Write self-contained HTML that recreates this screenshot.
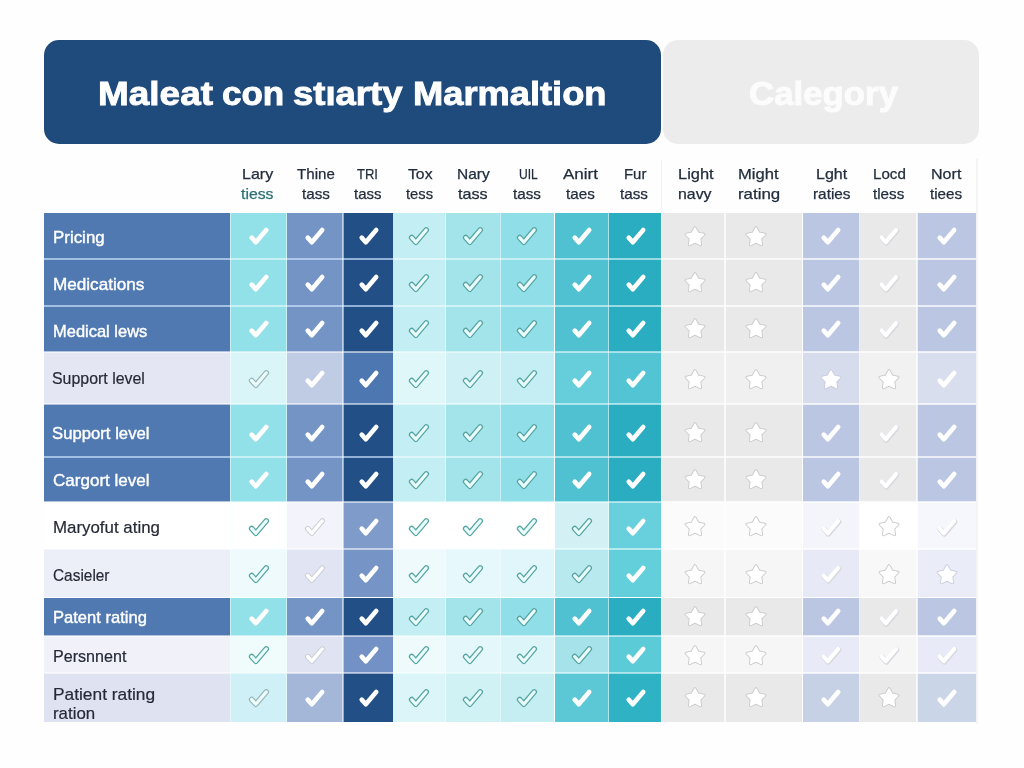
<!DOCTYPE html>
<html lang="en">
<head>
<meta charset="utf-8">
<title>Maleat con stiarty Marmaltion</title>
<style>
html,body{margin:0;padding:0;}
body{width:1024px;height:768px;position:relative;overflow:hidden;background:#fefefe;font-family:"Liberation Sans","DejaVu Sans",sans-serif;}
.abs{position:absolute;}
.banner{left:44.4px;top:39.5px;width:616.6px;height:104.3px;background:#1f4a7c;border-radius:15px;}
.cat{left:663px;top:39.5px;width:316px;height:104.3px;background:#ececec;border-radius:15px;}
.t{position:absolute;white-space:nowrap;transform-origin:0 0;display:block;}
.tt{color:#fff;font-weight:bold;font-size:33px;line-height:40px;-webkit-text-stroke:0.9px #fff;}
.ct{color:#fcfcfc;font-weight:bold;font-size:33px;line-height:40px;-webkit-text-stroke:0.9px #fcfcfc;}
.hd{font-size:15px;line-height:20px;color:#222d3d;-webkit-text-stroke:0.25px #222d3d;}
.hg{color:#2b6f73;-webkit-text-stroke:0.25px #2b6f73;}
.ld{font-size:17px;line-height:20px;color:#fff;-webkit-text-stroke:0.4px #fff;}
.ll{font-size:17px;line-height:20px;color:#252a36;-webkit-text-stroke:0.2px #252a36;}
.c{position:absolute;}
.gl{background:rgba(246,255,255,0.55);}
.gb{background:rgba(205,228,255,0.66);}
.gw{background:rgba(255,255,255,0.55);}
.gg{background:rgba(255,255,255,0.7);}
svg.i{position:absolute;overflow:visible;}
</style>
</head>
<body>
<svg width="0" height="0" style="position:absolute">
<defs>
<path id="ck" d="M-7.3 1.6 L-3.2 6.2 L7.2 -6" fill="none" stroke-linecap="round" stroke-linejoin="round"/>
<path id="st" d="M0.00 -9.20 L2.91 -3.90 L8.84 -2.77 L4.71 1.63 L5.47 7.62 L0.00 5.05 L-5.47 7.62 L-4.71 1.63 L-8.84 -2.77 L-2.91 -3.90 Z" stroke-linejoin="round"/>
</defs>
</svg>
<div class="abs banner"></div>
<div class="abs cat"></div>
<div class="abs" style="left:660.5px;top:160px;width:1px;height:52px;background:#f1f1f1"></div>
<div class="abs" style="left:976px;top:158px;width:2px;height:566px;background:#f5f5f8"></div>

<div class="c" style="left:44px;top:212.5px;width:186.3px;height:46.5px;background:#5079b1"></div>
<div class="c" style="left:230.3px;top:212.5px;width:56.3px;height:46.5px;background:#92e0e8"></div>
<div class="c" style="left:286.6px;top:212.5px;width:56.2px;height:46.5px;background:#7494c5"></div>
<div class="c" style="left:342.8px;top:212.5px;width:50px;height:46.5px;background:#234f87"></div>
<div class="c" style="left:392.8px;top:212.5px;width:52.8px;height:46.5px;background:#c3eef3"></div>
<div class="c" style="left:445.6px;top:212.5px;width:54.8px;height:46.5px;background:#a3e4eb"></div>
<div class="c" style="left:500.4px;top:212.5px;width:54.1px;height:46.5px;background:#90dee7"></div>
<div class="c" style="left:554.5px;top:212.5px;width:54px;height:46.5px;background:#4fc1d0"></div>
<div class="c" style="left:608.5px;top:212.5px;width:52.8px;height:46.5px;background:#2aadc0"></div>
<div class="c" style="left:661.3px;top:212.5px;width:63.9px;height:46.5px;background:#e9e9e9"></div>
<div class="c" style="left:725.2px;top:212.5px;width:77.3px;height:46.5px;background:#e9e9e9"></div>
<div class="c" style="left:802.5px;top:212.5px;width:57.1px;height:46.5px;background:#bac6e2"></div>
<div class="c" style="left:859.6px;top:212.5px;width:57.4px;height:46.5px;background:#e9e9e9"></div>
<div class="c" style="left:917px;top:212.5px;width:59px;height:46.5px;background:#bbc7e2"></div>
<svg class="i" style="left:246.6px;top:224.1px" width="24" height="24" viewBox="-12 -12 24 24"><use href="#ck" stroke="#fff" stroke-width="4.6"/></svg>
<svg class="i" style="left:303px;top:224.1px" width="24" height="24" viewBox="-12 -12 24 24"><use href="#ck" stroke="#fff" stroke-width="4.6"/></svg>
<svg class="i" style="left:357.2px;top:224.1px" width="24" height="24" viewBox="-12 -12 24 24"><use href="#ck" stroke="#fff" stroke-width="4.6"/></svg>
<svg class="i" style="left:407px;top:224.1px" width="24" height="24" viewBox="-12 -12 24 24"><use href="#ck" stroke="#56a5a3" stroke-width="5.7"/><use href="#ck" stroke="#e9fbfb" stroke-width="3.2"/></svg>
<svg class="i" style="left:460.9px;top:224.1px" width="24" height="24" viewBox="-12 -12 24 24"><use href="#ck" stroke="#56a5a3" stroke-width="5.7"/><use href="#ck" stroke="#e9fbfb" stroke-width="3.2"/></svg>
<svg class="i" style="left:514.6px;top:224.1px" width="24" height="24" viewBox="-12 -12 24 24"><use href="#ck" stroke="#56a5a3" stroke-width="5.7"/><use href="#ck" stroke="#e9fbfb" stroke-width="3.2"/></svg>
<svg class="i" style="left:569.7px;top:224.1px" width="24" height="24" viewBox="-12 -12 24 24"><use href="#ck" stroke="#fff" stroke-width="4.6"/></svg>
<svg class="i" style="left:623.6px;top:224.1px" width="24" height="24" viewBox="-12 -12 24 24"><use href="#ck" stroke="#fff" stroke-width="4.6"/></svg>
<svg class="i" style="left:683px;top:224.5px" width="24" height="24" viewBox="-12 -12 24 24"><use href="#st" fill="none" stroke="#cdcdcd" stroke-width="3.2"/><use href="#st" fill="#fff" stroke="#fff" stroke-width="1.2"/></svg>
<svg class="i" style="left:743.6px;top:224.5px" width="24" height="24" viewBox="-12 -12 24 24"><use href="#st" fill="none" stroke="#cdcdcd" stroke-width="3.2"/><use href="#st" fill="#fff" stroke="#fff" stroke-width="1.2"/></svg>
<svg class="i" style="left:818.6px;top:224.1px" width="24" height="24" viewBox="-12 -12 24 24"><use href="#ck" stroke="#fff" stroke-width="4.6"/></svg>
<svg class="i" style="left:877.2px;top:224.1px" width="24" height="24" viewBox="-12 -12 24 24"><use href="#ck" stroke="#d8d8de" stroke-width="5.4" transform="translate(0.5,0.7)"/><use href="#ck" stroke="#ffffff" stroke-width="4.2"/></svg>
<svg class="i" style="left:935.3px;top:224.1px" width="24" height="24" viewBox="-12 -12 24 24"><use href="#ck" stroke="#fff" stroke-width="4.6"/></svg>
<div class="c" style="left:44px;top:259px;width:186.3px;height:47px;background:#5079b1"></div>
<div class="c" style="left:230.3px;top:259px;width:56.3px;height:47px;background:#92e0e8"></div>
<div class="c" style="left:286.6px;top:259px;width:56.2px;height:47px;background:#7494c5"></div>
<div class="c" style="left:342.8px;top:259px;width:50px;height:47px;background:#234f87"></div>
<div class="c" style="left:392.8px;top:259px;width:52.8px;height:47px;background:#c3eef3"></div>
<div class="c" style="left:445.6px;top:259px;width:54.8px;height:47px;background:#a3e4eb"></div>
<div class="c" style="left:500.4px;top:259px;width:54.1px;height:47px;background:#90dee7"></div>
<div class="c" style="left:554.5px;top:259px;width:54px;height:47px;background:#4fc1d0"></div>
<div class="c" style="left:608.5px;top:259px;width:52.8px;height:47px;background:#2aadc0"></div>
<div class="c" style="left:661.3px;top:259px;width:63.9px;height:47px;background:#e9e9e9"></div>
<div class="c" style="left:725.2px;top:259px;width:77.3px;height:47px;background:#e9e9e9"></div>
<div class="c" style="left:802.5px;top:259px;width:57.1px;height:47px;background:#bac6e2"></div>
<div class="c" style="left:859.6px;top:259px;width:57.4px;height:47px;background:#e9e9e9"></div>
<div class="c" style="left:917px;top:259px;width:59px;height:47px;background:#bbc7e2"></div>
<svg class="i" style="left:246.6px;top:270.7px" width="24" height="24" viewBox="-12 -12 24 24"><use href="#ck" stroke="#fff" stroke-width="4.6"/></svg>
<svg class="i" style="left:303px;top:270.7px" width="24" height="24" viewBox="-12 -12 24 24"><use href="#ck" stroke="#fff" stroke-width="4.6"/></svg>
<svg class="i" style="left:357.2px;top:270.7px" width="24" height="24" viewBox="-12 -12 24 24"><use href="#ck" stroke="#fff" stroke-width="4.6"/></svg>
<svg class="i" style="left:407px;top:270.7px" width="24" height="24" viewBox="-12 -12 24 24"><use href="#ck" stroke="#56a5a3" stroke-width="5.7"/><use href="#ck" stroke="#e9fbfb" stroke-width="3.2"/></svg>
<svg class="i" style="left:460.9px;top:270.7px" width="24" height="24" viewBox="-12 -12 24 24"><use href="#ck" stroke="#56a5a3" stroke-width="5.7"/><use href="#ck" stroke="#e9fbfb" stroke-width="3.2"/></svg>
<svg class="i" style="left:514.6px;top:270.7px" width="24" height="24" viewBox="-12 -12 24 24"><use href="#ck" stroke="#56a5a3" stroke-width="5.7"/><use href="#ck" stroke="#e9fbfb" stroke-width="3.2"/></svg>
<svg class="i" style="left:569.7px;top:270.7px" width="24" height="24" viewBox="-12 -12 24 24"><use href="#ck" stroke="#fff" stroke-width="4.6"/></svg>
<svg class="i" style="left:623.6px;top:270.7px" width="24" height="24" viewBox="-12 -12 24 24"><use href="#ck" stroke="#fff" stroke-width="4.6"/></svg>
<svg class="i" style="left:683px;top:271.1px" width="24" height="24" viewBox="-12 -12 24 24"><use href="#st" fill="none" stroke="#cdcdcd" stroke-width="3.2"/><use href="#st" fill="#fff" stroke="#fff" stroke-width="1.2"/></svg>
<svg class="i" style="left:743.6px;top:271.1px" width="24" height="24" viewBox="-12 -12 24 24"><use href="#st" fill="none" stroke="#cdcdcd" stroke-width="3.2"/><use href="#st" fill="#fff" stroke="#fff" stroke-width="1.2"/></svg>
<svg class="i" style="left:818.6px;top:270.7px" width="24" height="24" viewBox="-12 -12 24 24"><use href="#ck" stroke="#fff" stroke-width="4.6"/></svg>
<svg class="i" style="left:877.2px;top:270.7px" width="24" height="24" viewBox="-12 -12 24 24"><use href="#ck" stroke="#d8d8de" stroke-width="5.4" transform="translate(0.5,0.7)"/><use href="#ck" stroke="#ffffff" stroke-width="4.2"/></svg>
<svg class="i" style="left:935.3px;top:270.7px" width="24" height="24" viewBox="-12 -12 24 24"><use href="#ck" stroke="#fff" stroke-width="4.6"/></svg>
<div class="c" style="left:44px;top:306px;width:186.3px;height:46px;background:#5079b1"></div>
<div class="c" style="left:230.3px;top:306px;width:56.3px;height:46px;background:#92e0e8"></div>
<div class="c" style="left:286.6px;top:306px;width:56.2px;height:46px;background:#7494c5"></div>
<div class="c" style="left:342.8px;top:306px;width:50px;height:46px;background:#234f87"></div>
<div class="c" style="left:392.8px;top:306px;width:52.8px;height:46px;background:#c3eef3"></div>
<div class="c" style="left:445.6px;top:306px;width:54.8px;height:46px;background:#a3e4eb"></div>
<div class="c" style="left:500.4px;top:306px;width:54.1px;height:46px;background:#90dee7"></div>
<div class="c" style="left:554.5px;top:306px;width:54px;height:46px;background:#4fc1d0"></div>
<div class="c" style="left:608.5px;top:306px;width:52.8px;height:46px;background:#2aadc0"></div>
<div class="c" style="left:661.3px;top:306px;width:63.9px;height:46px;background:#e9e9e9"></div>
<div class="c" style="left:725.2px;top:306px;width:77.3px;height:46px;background:#e9e9e9"></div>
<div class="c" style="left:802.5px;top:306px;width:57.1px;height:46px;background:#bac6e2"></div>
<div class="c" style="left:859.6px;top:306px;width:57.4px;height:46px;background:#e9e9e9"></div>
<div class="c" style="left:917px;top:306px;width:59px;height:46px;background:#bbc7e2"></div>
<svg class="i" style="left:246.6px;top:317px" width="24" height="24" viewBox="-12 -12 24 24"><use href="#ck" stroke="#fff" stroke-width="4.6"/></svg>
<svg class="i" style="left:303px;top:317px" width="24" height="24" viewBox="-12 -12 24 24"><use href="#ck" stroke="#fff" stroke-width="4.6"/></svg>
<svg class="i" style="left:357.2px;top:317px" width="24" height="24" viewBox="-12 -12 24 24"><use href="#ck" stroke="#fff" stroke-width="4.6"/></svg>
<svg class="i" style="left:407px;top:317px" width="24" height="24" viewBox="-12 -12 24 24"><use href="#ck" stroke="#56a5a3" stroke-width="5.7"/><use href="#ck" stroke="#e9fbfb" stroke-width="3.2"/></svg>
<svg class="i" style="left:460.9px;top:317px" width="24" height="24" viewBox="-12 -12 24 24"><use href="#ck" stroke="#56a5a3" stroke-width="5.7"/><use href="#ck" stroke="#e9fbfb" stroke-width="3.2"/></svg>
<svg class="i" style="left:514.6px;top:317px" width="24" height="24" viewBox="-12 -12 24 24"><use href="#ck" stroke="#56a5a3" stroke-width="5.7"/><use href="#ck" stroke="#e9fbfb" stroke-width="3.2"/></svg>
<svg class="i" style="left:569.7px;top:317px" width="24" height="24" viewBox="-12 -12 24 24"><use href="#ck" stroke="#fff" stroke-width="4.6"/></svg>
<svg class="i" style="left:623.6px;top:317px" width="24" height="24" viewBox="-12 -12 24 24"><use href="#ck" stroke="#fff" stroke-width="4.6"/></svg>
<svg class="i" style="left:683px;top:317.4px" width="24" height="24" viewBox="-12 -12 24 24"><use href="#st" fill="none" stroke="#cdcdcd" stroke-width="3.2"/><use href="#st" fill="#fff" stroke="#fff" stroke-width="1.2"/></svg>
<svg class="i" style="left:743.6px;top:317.4px" width="24" height="24" viewBox="-12 -12 24 24"><use href="#st" fill="none" stroke="#cdcdcd" stroke-width="3.2"/><use href="#st" fill="#fff" stroke="#fff" stroke-width="1.2"/></svg>
<svg class="i" style="left:818.6px;top:317px" width="24" height="24" viewBox="-12 -12 24 24"><use href="#ck" stroke="#fff" stroke-width="4.6"/></svg>
<svg class="i" style="left:877.2px;top:317px" width="24" height="24" viewBox="-12 -12 24 24"><use href="#ck" stroke="#d8d8de" stroke-width="5.4" transform="translate(0.5,0.7)"/><use href="#ck" stroke="#ffffff" stroke-width="4.2"/></svg>
<svg class="i" style="left:935.3px;top:317px" width="24" height="24" viewBox="-12 -12 24 24"><use href="#ck" stroke="#fff" stroke-width="4.6"/></svg>
<div class="c" style="left:44px;top:352px;width:186.3px;height:52.2px;background:#e4e6f3"></div>
<div class="c" style="left:230.3px;top:352px;width:56.3px;height:52.2px;background:#daf5f8"></div>
<div class="c" style="left:286.6px;top:352px;width:56.2px;height:52.2px;background:#c0cbe4"></div>
<div class="c" style="left:342.8px;top:352px;width:50px;height:52.2px;background:#4d77b0"></div>
<div class="c" style="left:392.8px;top:352px;width:52.8px;height:52.2px;background:#e0f7f9"></div>
<div class="c" style="left:445.6px;top:352px;width:54.8px;height:52.2px;background:#cff1f5"></div>
<div class="c" style="left:500.4px;top:352px;width:54.1px;height:52.2px;background:#c4eef3"></div>
<div class="c" style="left:554.5px;top:352px;width:54px;height:52.2px;background:#66cedb"></div>
<div class="c" style="left:608.5px;top:352px;width:52.8px;height:52.2px;background:#52c4d3"></div>
<div class="c" style="left:661.3px;top:352px;width:63.9px;height:52.2px;background:#f0f0f0"></div>
<div class="c" style="left:725.2px;top:352px;width:77.3px;height:52.2px;background:#f0f0f0"></div>
<div class="c" style="left:802.5px;top:352px;width:57.1px;height:52.2px;background:#d6dcec"></div>
<div class="c" style="left:859.6px;top:352px;width:57.4px;height:52.2px;background:#f1f1f1"></div>
<div class="c" style="left:917px;top:352px;width:59px;height:52.2px;background:#d9deee"></div>
<svg class="i" style="left:246.6px;top:367.2px" width="24" height="24" viewBox="-12 -12 24 24"><use href="#ck" stroke="#93b7ba" stroke-width="5.7"/><use href="#ck" stroke="#f0fcfc" stroke-width="3.3"/></svg>
<svg class="i" style="left:303px;top:367.2px" width="24" height="24" viewBox="-12 -12 24 24"><use href="#ck" stroke="#fff" stroke-width="4.6"/></svg>
<svg class="i" style="left:357.2px;top:367.2px" width="24" height="24" viewBox="-12 -12 24 24"><use href="#ck" stroke="#fff" stroke-width="4.6"/></svg>
<svg class="i" style="left:407px;top:367.2px" width="24" height="24" viewBox="-12 -12 24 24"><use href="#ck" stroke="#56a5a3" stroke-width="5.7"/><use href="#ck" stroke="#e9fbfb" stroke-width="3.2"/></svg>
<svg class="i" style="left:460.9px;top:367.2px" width="24" height="24" viewBox="-12 -12 24 24"><use href="#ck" stroke="#56a5a3" stroke-width="5.7"/><use href="#ck" stroke="#e9fbfb" stroke-width="3.2"/></svg>
<svg class="i" style="left:514.6px;top:367.2px" width="24" height="24" viewBox="-12 -12 24 24"><use href="#ck" stroke="#56a5a3" stroke-width="5.7"/><use href="#ck" stroke="#e9fbfb" stroke-width="3.2"/></svg>
<svg class="i" style="left:569.7px;top:367.2px" width="24" height="24" viewBox="-12 -12 24 24"><use href="#ck" stroke="#fff" stroke-width="4.6"/></svg>
<svg class="i" style="left:623.6px;top:367.2px" width="24" height="24" viewBox="-12 -12 24 24"><use href="#ck" stroke="#fff" stroke-width="4.6"/></svg>
<svg class="i" style="left:683px;top:367.6px" width="24" height="24" viewBox="-12 -12 24 24"><use href="#st" fill="none" stroke="#cdcdcd" stroke-width="3.2"/><use href="#st" fill="#fff" stroke="#fff" stroke-width="1.2"/></svg>
<svg class="i" style="left:743.6px;top:367.6px" width="24" height="24" viewBox="-12 -12 24 24"><use href="#st" fill="none" stroke="#cdcdcd" stroke-width="3.2"/><use href="#st" fill="#fff" stroke="#fff" stroke-width="1.2"/></svg>
<svg class="i" style="left:818.6px;top:367.6px" width="24" height="24" viewBox="-12 -12 24 24"><use href="#st" fill="none" stroke="#c9cce0" stroke-width="3"/><use href="#st" fill="#fff" stroke="#fff" stroke-width="1.2"/></svg>
<svg class="i" style="left:877.2px;top:367.6px" width="24" height="24" viewBox="-12 -12 24 24"><use href="#st" fill="none" stroke="#cdcdcd" stroke-width="3.2"/><use href="#st" fill="#fff" stroke="#fff" stroke-width="1.2"/></svg>
<svg class="i" style="left:935.3px;top:367.2px" width="24" height="24" viewBox="-12 -12 24 24"><use href="#ck" stroke="#fff" stroke-width="4.6"/></svg>
<div class="c" style="left:44px;top:404.2px;width:186.3px;height:52.8px;background:#5079b1"></div>
<div class="c" style="left:230.3px;top:404.2px;width:56.3px;height:52.8px;background:#92e0e8"></div>
<div class="c" style="left:286.6px;top:404.2px;width:56.2px;height:52.8px;background:#7494c5"></div>
<div class="c" style="left:342.8px;top:404.2px;width:50px;height:52.8px;background:#234f87"></div>
<div class="c" style="left:392.8px;top:404.2px;width:52.8px;height:52.8px;background:#c3eef3"></div>
<div class="c" style="left:445.6px;top:404.2px;width:54.8px;height:52.8px;background:#a3e4eb"></div>
<div class="c" style="left:500.4px;top:404.2px;width:54.1px;height:52.8px;background:#90dee7"></div>
<div class="c" style="left:554.5px;top:404.2px;width:54px;height:52.8px;background:#4fc1d0"></div>
<div class="c" style="left:608.5px;top:404.2px;width:52.8px;height:52.8px;background:#2aadc0"></div>
<div class="c" style="left:661.3px;top:404.2px;width:63.9px;height:52.8px;background:#e9e9e9"></div>
<div class="c" style="left:725.2px;top:404.2px;width:77.3px;height:52.8px;background:#e9e9e9"></div>
<div class="c" style="left:802.5px;top:404.2px;width:57.1px;height:52.8px;background:#bac6e2"></div>
<div class="c" style="left:859.6px;top:404.2px;width:57.4px;height:52.8px;background:#e9e9e9"></div>
<div class="c" style="left:917px;top:404.2px;width:59px;height:52.8px;background:#bbc7e2"></div>
<svg class="i" style="left:246.6px;top:420.9px" width="24" height="24" viewBox="-12 -12 24 24"><use href="#ck" stroke="#fff" stroke-width="4.6"/></svg>
<svg class="i" style="left:303px;top:420.9px" width="24" height="24" viewBox="-12 -12 24 24"><use href="#ck" stroke="#fff" stroke-width="4.6"/></svg>
<svg class="i" style="left:357.2px;top:420.9px" width="24" height="24" viewBox="-12 -12 24 24"><use href="#ck" stroke="#fff" stroke-width="4.6"/></svg>
<svg class="i" style="left:407px;top:420.9px" width="24" height="24" viewBox="-12 -12 24 24"><use href="#ck" stroke="#56a5a3" stroke-width="5.7"/><use href="#ck" stroke="#e9fbfb" stroke-width="3.2"/></svg>
<svg class="i" style="left:460.9px;top:420.9px" width="24" height="24" viewBox="-12 -12 24 24"><use href="#ck" stroke="#56a5a3" stroke-width="5.7"/><use href="#ck" stroke="#e9fbfb" stroke-width="3.2"/></svg>
<svg class="i" style="left:514.6px;top:420.9px" width="24" height="24" viewBox="-12 -12 24 24"><use href="#ck" stroke="#56a5a3" stroke-width="5.7"/><use href="#ck" stroke="#e9fbfb" stroke-width="3.2"/></svg>
<svg class="i" style="left:569.7px;top:420.9px" width="24" height="24" viewBox="-12 -12 24 24"><use href="#ck" stroke="#fff" stroke-width="4.6"/></svg>
<svg class="i" style="left:623.6px;top:420.9px" width="24" height="24" viewBox="-12 -12 24 24"><use href="#ck" stroke="#fff" stroke-width="4.6"/></svg>
<svg class="i" style="left:683px;top:421.3px" width="24" height="24" viewBox="-12 -12 24 24"><use href="#st" fill="none" stroke="#cdcdcd" stroke-width="3.2"/><use href="#st" fill="#fff" stroke="#fff" stroke-width="1.2"/></svg>
<svg class="i" style="left:743.6px;top:421.3px" width="24" height="24" viewBox="-12 -12 24 24"><use href="#st" fill="none" stroke="#cdcdcd" stroke-width="3.2"/><use href="#st" fill="#fff" stroke="#fff" stroke-width="1.2"/></svg>
<svg class="i" style="left:818.6px;top:420.9px" width="24" height="24" viewBox="-12 -12 24 24"><use href="#ck" stroke="#fff" stroke-width="4.6"/></svg>
<svg class="i" style="left:877.2px;top:420.9px" width="24" height="24" viewBox="-12 -12 24 24"><use href="#ck" stroke="#d8d8de" stroke-width="5.4" transform="translate(0.5,0.7)"/><use href="#ck" stroke="#ffffff" stroke-width="4.2"/></svg>
<svg class="i" style="left:935.3px;top:420.9px" width="24" height="24" viewBox="-12 -12 24 24"><use href="#ck" stroke="#fff" stroke-width="4.6"/></svg>
<div class="c" style="left:44px;top:457px;width:186.3px;height:44.8px;background:#5079b1"></div>
<div class="c" style="left:230.3px;top:457px;width:56.3px;height:44.8px;background:#92e0e8"></div>
<div class="c" style="left:286.6px;top:457px;width:56.2px;height:44.8px;background:#7494c5"></div>
<div class="c" style="left:342.8px;top:457px;width:50px;height:44.8px;background:#234f87"></div>
<div class="c" style="left:392.8px;top:457px;width:52.8px;height:44.8px;background:#c3eef3"></div>
<div class="c" style="left:445.6px;top:457px;width:54.8px;height:44.8px;background:#a3e4eb"></div>
<div class="c" style="left:500.4px;top:457px;width:54.1px;height:44.8px;background:#90dee7"></div>
<div class="c" style="left:554.5px;top:457px;width:54px;height:44.8px;background:#4fc1d0"></div>
<div class="c" style="left:608.5px;top:457px;width:52.8px;height:44.8px;background:#2aadc0"></div>
<div class="c" style="left:661.3px;top:457px;width:63.9px;height:44.8px;background:#e9e9e9"></div>
<div class="c" style="left:725.2px;top:457px;width:77.3px;height:44.8px;background:#e9e9e9"></div>
<div class="c" style="left:802.5px;top:457px;width:57.1px;height:44.8px;background:#bac6e2"></div>
<div class="c" style="left:859.6px;top:457px;width:57.4px;height:44.8px;background:#e9e9e9"></div>
<div class="c" style="left:917px;top:457px;width:59px;height:44.8px;background:#bbc7e2"></div>
<svg class="i" style="left:246.6px;top:467.8px" width="24" height="24" viewBox="-12 -12 24 24"><use href="#ck" stroke="#fff" stroke-width="4.6"/></svg>
<svg class="i" style="left:303px;top:467.8px" width="24" height="24" viewBox="-12 -12 24 24"><use href="#ck" stroke="#fff" stroke-width="4.6"/></svg>
<svg class="i" style="left:357.2px;top:467.8px" width="24" height="24" viewBox="-12 -12 24 24"><use href="#ck" stroke="#fff" stroke-width="4.6"/></svg>
<svg class="i" style="left:407px;top:467.8px" width="24" height="24" viewBox="-12 -12 24 24"><use href="#ck" stroke="#56a5a3" stroke-width="5.7"/><use href="#ck" stroke="#e9fbfb" stroke-width="3.2"/></svg>
<svg class="i" style="left:460.9px;top:467.8px" width="24" height="24" viewBox="-12 -12 24 24"><use href="#ck" stroke="#56a5a3" stroke-width="5.7"/><use href="#ck" stroke="#e9fbfb" stroke-width="3.2"/></svg>
<svg class="i" style="left:514.6px;top:467.8px" width="24" height="24" viewBox="-12 -12 24 24"><use href="#ck" stroke="#56a5a3" stroke-width="5.7"/><use href="#ck" stroke="#e9fbfb" stroke-width="3.2"/></svg>
<svg class="i" style="left:569.7px;top:467.8px" width="24" height="24" viewBox="-12 -12 24 24"><use href="#ck" stroke="#fff" stroke-width="4.6"/></svg>
<svg class="i" style="left:623.6px;top:467.8px" width="24" height="24" viewBox="-12 -12 24 24"><use href="#ck" stroke="#fff" stroke-width="4.6"/></svg>
<svg class="i" style="left:683px;top:468.2px" width="24" height="24" viewBox="-12 -12 24 24"><use href="#st" fill="none" stroke="#cdcdcd" stroke-width="3.2"/><use href="#st" fill="#fff" stroke="#fff" stroke-width="1.2"/></svg>
<svg class="i" style="left:743.6px;top:468.2px" width="24" height="24" viewBox="-12 -12 24 24"><use href="#st" fill="none" stroke="#cdcdcd" stroke-width="3.2"/><use href="#st" fill="#fff" stroke="#fff" stroke-width="1.2"/></svg>
<svg class="i" style="left:818.6px;top:467.8px" width="24" height="24" viewBox="-12 -12 24 24"><use href="#ck" stroke="#fff" stroke-width="4.6"/></svg>
<svg class="i" style="left:877.2px;top:467.8px" width="24" height="24" viewBox="-12 -12 24 24"><use href="#ck" stroke="#d8d8de" stroke-width="5.4" transform="translate(0.5,0.7)"/><use href="#ck" stroke="#ffffff" stroke-width="4.2"/></svg>
<svg class="i" style="left:935.3px;top:467.8px" width="24" height="24" viewBox="-12 -12 24 24"><use href="#ck" stroke="#fff" stroke-width="4.6"/></svg>
<div class="c" style="left:44px;top:501.8px;width:186.3px;height:47.5px;background:#ffffff"></div>
<div class="c" style="left:230.3px;top:501.8px;width:56.3px;height:47.5px;background:#ffffff"></div>
<div class="c" style="left:286.6px;top:501.8px;width:56.2px;height:47.5px;background:#f3f4fb"></div>
<div class="c" style="left:342.8px;top:501.8px;width:50px;height:47.5px;background:#7f9bc9"></div>
<div class="c" style="left:392.8px;top:501.8px;width:52.8px;height:47.5px;background:#ffffff"></div>
<div class="c" style="left:445.6px;top:501.8px;width:54.8px;height:47.5px;background:#ffffff"></div>
<div class="c" style="left:500.4px;top:501.8px;width:54.1px;height:47.5px;background:#ffffff"></div>
<div class="c" style="left:554.5px;top:501.8px;width:54px;height:47.5px;background:#d3f1f5"></div>
<div class="c" style="left:608.5px;top:501.8px;width:52.8px;height:47.5px;background:#68d0dc"></div>
<div class="c" style="left:661.3px;top:501.8px;width:63.9px;height:47.5px;background:#fbfbfb"></div>
<div class="c" style="left:725.2px;top:501.8px;width:77.3px;height:47.5px;background:#fbfbfb"></div>
<div class="c" style="left:802.5px;top:501.8px;width:57.1px;height:47.5px;background:#f4f5fb"></div>
<div class="c" style="left:859.6px;top:501.8px;width:57.4px;height:47.5px;background:#ffffff"></div>
<div class="c" style="left:917px;top:501.8px;width:59px;height:47.5px;background:#f6f7fc"></div>
<svg class="i" style="left:246.6px;top:514.9px" width="24" height="24" viewBox="-12 -12 24 24"><use href="#ck" stroke="#56a5a3" stroke-width="5.7"/><use href="#ck" stroke="#e9fbfb" stroke-width="3.2"/></svg>
<svg class="i" style="left:303px;top:514.9px" width="24" height="24" viewBox="-12 -12 24 24"><use href="#ck" stroke="#cfd1da" stroke-width="5.6"/><use href="#ck" stroke="#ffffff" stroke-width="3.4"/></svg>
<svg class="i" style="left:357.2px;top:514.9px" width="24" height="24" viewBox="-12 -12 24 24"><use href="#ck" stroke="#fff" stroke-width="4.6"/></svg>
<svg class="i" style="left:407px;top:514.9px" width="24" height="24" viewBox="-12 -12 24 24"><use href="#ck" stroke="#56a5a3" stroke-width="5.7"/><use href="#ck" stroke="#e9fbfb" stroke-width="3.2"/></svg>
<svg class="i" style="left:460.9px;top:514.9px" width="24" height="24" viewBox="-12 -12 24 24"><use href="#ck" stroke="#56a5a3" stroke-width="5.7"/><use href="#ck" stroke="#e9fbfb" stroke-width="3.2"/></svg>
<svg class="i" style="left:514.6px;top:514.9px" width="24" height="24" viewBox="-12 -12 24 24"><use href="#ck" stroke="#56a5a3" stroke-width="5.7"/><use href="#ck" stroke="#e9fbfb" stroke-width="3.2"/></svg>
<svg class="i" style="left:569.7px;top:514.9px" width="24" height="24" viewBox="-12 -12 24 24"><use href="#ck" stroke="#56a5a3" stroke-width="5.7"/><use href="#ck" stroke="#e9fbfb" stroke-width="3.2"/></svg>
<svg class="i" style="left:623.6px;top:514.9px" width="24" height="24" viewBox="-12 -12 24 24"><use href="#ck" stroke="#fff" stroke-width="4.6"/></svg>
<svg class="i" style="left:683px;top:515.3px" width="24" height="24" viewBox="-12 -12 24 24"><use href="#st" fill="none" stroke="#cdcdcd" stroke-width="3.2"/><use href="#st" fill="#fff" stroke="#fff" stroke-width="1.2"/></svg>
<svg class="i" style="left:743.6px;top:515.3px" width="24" height="24" viewBox="-12 -12 24 24"><use href="#st" fill="none" stroke="#cdcdcd" stroke-width="3.2"/><use href="#st" fill="#fff" stroke="#fff" stroke-width="1.2"/></svg>
<svg class="i" style="left:818.6px;top:514.9px" width="24" height="24" viewBox="-12 -12 24 24"><use href="#ck" stroke="#d8d8de" stroke-width="5.4" transform="translate(0.5,0.7)"/><use href="#ck" stroke="#ffffff" stroke-width="4.2"/></svg>
<svg class="i" style="left:877.2px;top:515.3px" width="24" height="24" viewBox="-12 -12 24 24"><use href="#st" fill="none" stroke="#cdcdcd" stroke-width="3.2"/><use href="#st" fill="#fff" stroke="#fff" stroke-width="1.2"/></svg>
<svg class="i" style="left:935.3px;top:514.9px" width="24" height="24" viewBox="-12 -12 24 24"><use href="#ck" stroke="#d8d8de" stroke-width="5.4" transform="translate(0.5,0.7)"/><use href="#ck" stroke="#ffffff" stroke-width="4.2"/></svg>
<div class="c" style="left:44px;top:549.3px;width:186.3px;height:48.2px;background:#eceef8"></div>
<div class="c" style="left:230.3px;top:549.3px;width:56.3px;height:48.2px;background:#eefafc"></div>
<div class="c" style="left:286.6px;top:549.3px;width:56.2px;height:48.2px;background:#e1e5f3"></div>
<div class="c" style="left:342.8px;top:549.3px;width:50px;height:48.2px;background:#7794c6"></div>
<div class="c" style="left:392.8px;top:549.3px;width:52.8px;height:48.2px;background:#eefafc"></div>
<div class="c" style="left:445.6px;top:549.3px;width:54.8px;height:48.2px;background:#e6f8fb"></div>
<div class="c" style="left:500.4px;top:549.3px;width:54.1px;height:48.2px;background:#e0f6fa"></div>
<div class="c" style="left:554.5px;top:549.3px;width:54px;height:48.2px;background:#b8e9ef"></div>
<div class="c" style="left:608.5px;top:549.3px;width:52.8px;height:48.2px;background:#62cfdb"></div>
<div class="c" style="left:661.3px;top:549.3px;width:63.9px;height:48.2px;background:#f6f6f6"></div>
<div class="c" style="left:725.2px;top:549.3px;width:77.3px;height:48.2px;background:#f6f6f6"></div>
<div class="c" style="left:802.5px;top:549.3px;width:57.1px;height:48.2px;background:#e7eaf6"></div>
<div class="c" style="left:859.6px;top:549.3px;width:57.4px;height:48.2px;background:#f8f8f8"></div>
<div class="c" style="left:917px;top:549.3px;width:59px;height:48.2px;background:#eaedf7"></div>
<svg class="i" style="left:246.6px;top:562.4px" width="24" height="24" viewBox="-12 -12 24 24"><use href="#ck" stroke="#56a5a3" stroke-width="5.7"/><use href="#ck" stroke="#e9fbfb" stroke-width="3.2"/></svg>
<svg class="i" style="left:303px;top:562.4px" width="24" height="24" viewBox="-12 -12 24 24"><use href="#ck" stroke="#cfd1da" stroke-width="5.6"/><use href="#ck" stroke="#ffffff" stroke-width="3.4"/></svg>
<svg class="i" style="left:357.2px;top:562.4px" width="24" height="24" viewBox="-12 -12 24 24"><use href="#ck" stroke="#fff" stroke-width="4.6"/></svg>
<svg class="i" style="left:407px;top:562.4px" width="24" height="24" viewBox="-12 -12 24 24"><use href="#ck" stroke="#56a5a3" stroke-width="5.7"/><use href="#ck" stroke="#e9fbfb" stroke-width="3.2"/></svg>
<svg class="i" style="left:460.9px;top:562.4px" width="24" height="24" viewBox="-12 -12 24 24"><use href="#ck" stroke="#56a5a3" stroke-width="5.7"/><use href="#ck" stroke="#e9fbfb" stroke-width="3.2"/></svg>
<svg class="i" style="left:514.6px;top:562.4px" width="24" height="24" viewBox="-12 -12 24 24"><use href="#ck" stroke="#56a5a3" stroke-width="5.7"/><use href="#ck" stroke="#e9fbfb" stroke-width="3.2"/></svg>
<svg class="i" style="left:569.7px;top:562.4px" width="24" height="24" viewBox="-12 -12 24 24"><use href="#ck" stroke="#56a5a3" stroke-width="5.7"/><use href="#ck" stroke="#e9fbfb" stroke-width="3.2"/></svg>
<svg class="i" style="left:623.6px;top:562.4px" width="24" height="24" viewBox="-12 -12 24 24"><use href="#ck" stroke="#fff" stroke-width="4.6"/></svg>
<svg class="i" style="left:683px;top:562.8px" width="24" height="24" viewBox="-12 -12 24 24"><use href="#st" fill="none" stroke="#cdcdcd" stroke-width="3.2"/><use href="#st" fill="#fff" stroke="#fff" stroke-width="1.2"/></svg>
<svg class="i" style="left:743.6px;top:562.8px" width="24" height="24" viewBox="-12 -12 24 24"><use href="#st" fill="none" stroke="#cdcdcd" stroke-width="3.2"/><use href="#st" fill="#fff" stroke="#fff" stroke-width="1.2"/></svg>
<svg class="i" style="left:818.6px;top:562.4px" width="24" height="24" viewBox="-12 -12 24 24"><use href="#ck" stroke="#d8d8de" stroke-width="5.4" transform="translate(0.5,0.7)"/><use href="#ck" stroke="#ffffff" stroke-width="4.2"/></svg>
<svg class="i" style="left:877.2px;top:562.8px" width="24" height="24" viewBox="-12 -12 24 24"><use href="#st" fill="none" stroke="#cdcdcd" stroke-width="3.2"/><use href="#st" fill="#fff" stroke="#fff" stroke-width="1.2"/></svg>
<svg class="i" style="left:935.3px;top:562.8px" width="24" height="24" viewBox="-12 -12 24 24"><use href="#st" fill="none" stroke="#c9cce0" stroke-width="3"/><use href="#st" fill="#fff" stroke="#fff" stroke-width="1.2"/></svg>
<div class="c" style="left:44px;top:597.5px;width:186.3px;height:38.5px;background:#5079b1"></div>
<div class="c" style="left:230.3px;top:597.5px;width:56.3px;height:38.5px;background:#92e0e8"></div>
<div class="c" style="left:286.6px;top:597.5px;width:56.2px;height:38.5px;background:#7494c5"></div>
<div class="c" style="left:342.8px;top:597.5px;width:50px;height:38.5px;background:#234f87"></div>
<div class="c" style="left:392.8px;top:597.5px;width:52.8px;height:38.5px;background:#c3eef3"></div>
<div class="c" style="left:445.6px;top:597.5px;width:54.8px;height:38.5px;background:#a3e4eb"></div>
<div class="c" style="left:500.4px;top:597.5px;width:54.1px;height:38.5px;background:#90dee7"></div>
<div class="c" style="left:554.5px;top:597.5px;width:54px;height:38.5px;background:#4fc1d0"></div>
<div class="c" style="left:608.5px;top:597.5px;width:52.8px;height:38.5px;background:#2aadc0"></div>
<div class="c" style="left:661.3px;top:597.5px;width:63.9px;height:38.5px;background:#e9e9e9"></div>
<div class="c" style="left:725.2px;top:597.5px;width:77.3px;height:38.5px;background:#e9e9e9"></div>
<div class="c" style="left:802.5px;top:597.5px;width:57.1px;height:38.5px;background:#bac6e2"></div>
<div class="c" style="left:859.6px;top:597.5px;width:57.4px;height:38.5px;background:#e9e9e9"></div>
<div class="c" style="left:917px;top:597.5px;width:59px;height:38.5px;background:#bbc7e2"></div>
<svg class="i" style="left:246.6px;top:604.8px" width="24" height="24" viewBox="-12 -12 24 24"><use href="#ck" stroke="#fff" stroke-width="4.6"/></svg>
<svg class="i" style="left:303px;top:604.8px" width="24" height="24" viewBox="-12 -12 24 24"><use href="#ck" stroke="#fff" stroke-width="4.6"/></svg>
<svg class="i" style="left:357.2px;top:604.8px" width="24" height="24" viewBox="-12 -12 24 24"><use href="#ck" stroke="#fff" stroke-width="4.6"/></svg>
<svg class="i" style="left:407px;top:604.8px" width="24" height="24" viewBox="-12 -12 24 24"><use href="#ck" stroke="#56a5a3" stroke-width="5.7"/><use href="#ck" stroke="#e9fbfb" stroke-width="3.2"/></svg>
<svg class="i" style="left:460.9px;top:604.8px" width="24" height="24" viewBox="-12 -12 24 24"><use href="#ck" stroke="#56a5a3" stroke-width="5.7"/><use href="#ck" stroke="#e9fbfb" stroke-width="3.2"/></svg>
<svg class="i" style="left:514.6px;top:604.8px" width="24" height="24" viewBox="-12 -12 24 24"><use href="#ck" stroke="#56a5a3" stroke-width="5.7"/><use href="#ck" stroke="#e9fbfb" stroke-width="3.2"/></svg>
<svg class="i" style="left:569.7px;top:604.8px" width="24" height="24" viewBox="-12 -12 24 24"><use href="#ck" stroke="#fff" stroke-width="4.6"/></svg>
<svg class="i" style="left:623.6px;top:604.8px" width="24" height="24" viewBox="-12 -12 24 24"><use href="#ck" stroke="#fff" stroke-width="4.6"/></svg>
<svg class="i" style="left:683px;top:605.2px" width="24" height="24" viewBox="-12 -12 24 24"><use href="#st" fill="none" stroke="#cdcdcd" stroke-width="3.2"/><use href="#st" fill="#fff" stroke="#fff" stroke-width="1.2"/></svg>
<svg class="i" style="left:743.6px;top:605.2px" width="24" height="24" viewBox="-12 -12 24 24"><use href="#st" fill="none" stroke="#cdcdcd" stroke-width="3.2"/><use href="#st" fill="#fff" stroke="#fff" stroke-width="1.2"/></svg>
<svg class="i" style="left:818.6px;top:604.8px" width="24" height="24" viewBox="-12 -12 24 24"><use href="#ck" stroke="#fff" stroke-width="4.6"/></svg>
<svg class="i" style="left:877.2px;top:604.8px" width="24" height="24" viewBox="-12 -12 24 24"><use href="#ck" stroke="#d8d8de" stroke-width="5.4" transform="translate(0.5,0.7)"/><use href="#ck" stroke="#ffffff" stroke-width="4.2"/></svg>
<svg class="i" style="left:935.3px;top:604.8px" width="24" height="24" viewBox="-12 -12 24 24"><use href="#ck" stroke="#fff" stroke-width="4.6"/></svg>
<div class="c" style="left:44px;top:636px;width:186.3px;height:37.3px;background:#f0f1f9"></div>
<div class="c" style="left:230.3px;top:636px;width:56.3px;height:37.3px;background:#f0fbfc"></div>
<div class="c" style="left:286.6px;top:636px;width:56.2px;height:37.3px;background:#e0e3f2"></div>
<div class="c" style="left:342.8px;top:636px;width:50px;height:37.3px;background:#7391c4"></div>
<div class="c" style="left:392.8px;top:636px;width:52.8px;height:37.3px;background:#eefafc"></div>
<div class="c" style="left:445.6px;top:636px;width:54.8px;height:37.3px;background:#e4f7fa"></div>
<div class="c" style="left:500.4px;top:636px;width:54.1px;height:37.3px;background:#dcf5f8"></div>
<div class="c" style="left:554.5px;top:636px;width:54px;height:37.3px;background:#a5e2ea"></div>
<div class="c" style="left:608.5px;top:636px;width:52.8px;height:37.3px;background:#5ccbd8"></div>
<div class="c" style="left:661.3px;top:636px;width:63.9px;height:37.3px;background:#f6f6f6"></div>
<div class="c" style="left:725.2px;top:636px;width:77.3px;height:37.3px;background:#f6f6f6"></div>
<div class="c" style="left:802.5px;top:636px;width:57.1px;height:37.3px;background:#e8ebf7"></div>
<div class="c" style="left:859.6px;top:636px;width:57.4px;height:37.3px;background:#f6f6f6"></div>
<div class="c" style="left:917px;top:636px;width:59px;height:37.3px;background:#e8ebf7"></div>
<svg class="i" style="left:246.6px;top:643.1px" width="24" height="24" viewBox="-12 -12 24 24"><use href="#ck" stroke="#56a5a3" stroke-width="5.7"/><use href="#ck" stroke="#e9fbfb" stroke-width="3.2"/></svg>
<svg class="i" style="left:303px;top:643.1px" width="24" height="24" viewBox="-12 -12 24 24"><use href="#ck" stroke="#cfd1da" stroke-width="5.6"/><use href="#ck" stroke="#ffffff" stroke-width="3.4"/></svg>
<svg class="i" style="left:357.2px;top:643.1px" width="24" height="24" viewBox="-12 -12 24 24"><use href="#ck" stroke="#fff" stroke-width="4.6"/></svg>
<svg class="i" style="left:407px;top:643.1px" width="24" height="24" viewBox="-12 -12 24 24"><use href="#ck" stroke="#56a5a3" stroke-width="5.7"/><use href="#ck" stroke="#e9fbfb" stroke-width="3.2"/></svg>
<svg class="i" style="left:460.9px;top:643.1px" width="24" height="24" viewBox="-12 -12 24 24"><use href="#ck" stroke="#56a5a3" stroke-width="5.7"/><use href="#ck" stroke="#e9fbfb" stroke-width="3.2"/></svg>
<svg class="i" style="left:514.6px;top:643.1px" width="24" height="24" viewBox="-12 -12 24 24"><use href="#ck" stroke="#56a5a3" stroke-width="5.7"/><use href="#ck" stroke="#e9fbfb" stroke-width="3.2"/></svg>
<svg class="i" style="left:569.7px;top:643.1px" width="24" height="24" viewBox="-12 -12 24 24"><use href="#ck" stroke="#56a5a3" stroke-width="5.7"/><use href="#ck" stroke="#e9fbfb" stroke-width="3.2"/></svg>
<svg class="i" style="left:623.6px;top:643.1px" width="24" height="24" viewBox="-12 -12 24 24"><use href="#ck" stroke="#fff" stroke-width="4.6"/></svg>
<svg class="i" style="left:683px;top:643.5px" width="24" height="24" viewBox="-12 -12 24 24"><use href="#st" fill="none" stroke="#cdcdcd" stroke-width="3.2"/><use href="#st" fill="#fff" stroke="#fff" stroke-width="1.2"/></svg>
<svg class="i" style="left:743.6px;top:643.5px" width="24" height="24" viewBox="-12 -12 24 24"><use href="#st" fill="none" stroke="#cdcdcd" stroke-width="3.2"/><use href="#st" fill="#fff" stroke="#fff" stroke-width="1.2"/></svg>
<svg class="i" style="left:818.6px;top:643.1px" width="24" height="24" viewBox="-12 -12 24 24"><use href="#ck" stroke="#d8d8de" stroke-width="5.4" transform="translate(0.5,0.7)"/><use href="#ck" stroke="#ffffff" stroke-width="4.2"/></svg>
<svg class="i" style="left:877.2px;top:643.1px" width="24" height="24" viewBox="-12 -12 24 24"><use href="#ck" stroke="#d8d8de" stroke-width="5.4" transform="translate(0.5,0.7)"/><use href="#ck" stroke="#ffffff" stroke-width="4.2"/></svg>
<svg class="i" style="left:935.3px;top:643.1px" width="24" height="24" viewBox="-12 -12 24 24"><use href="#ck" stroke="#d8d8de" stroke-width="5.4" transform="translate(0.5,0.7)"/><use href="#ck" stroke="#ffffff" stroke-width="4.2"/></svg>
<div class="c" style="left:44px;top:673.3px;width:186.3px;height:48.7px;background:#dfe3f1"></div>
<div class="c" style="left:230.3px;top:673.3px;width:56.3px;height:48.7px;background:#cff0f6"></div>
<div class="c" style="left:286.6px;top:673.3px;width:56.2px;height:48.7px;background:#a4b7d8"></div>
<div class="c" style="left:342.8px;top:673.3px;width:50px;height:48.7px;background:#234f87"></div>
<div class="c" style="left:392.8px;top:673.3px;width:52.8px;height:48.7px;background:#dcf5f8"></div>
<div class="c" style="left:445.6px;top:673.3px;width:54.8px;height:48.7px;background:#d0f2f5"></div>
<div class="c" style="left:500.4px;top:673.3px;width:54.1px;height:48.7px;background:#c4eef2"></div>
<div class="c" style="left:554.5px;top:673.3px;width:54px;height:48.7px;background:#5cc8d5"></div>
<div class="c" style="left:608.5px;top:673.3px;width:52.8px;height:48.7px;background:#2fb3c4"></div>
<div class="c" style="left:661.3px;top:673.3px;width:63.9px;height:48.7px;background:#e9e9e9"></div>
<div class="c" style="left:725.2px;top:673.3px;width:77.3px;height:48.7px;background:#e9e9e9"></div>
<div class="c" style="left:802.5px;top:673.3px;width:57.1px;height:48.7px;background:#c6d1e6"></div>
<div class="c" style="left:859.6px;top:673.3px;width:57.4px;height:48.7px;background:#e9e9e9"></div>
<div class="c" style="left:917px;top:673.3px;width:59px;height:48.7px;background:#cbd5e8"></div>
<svg class="i" style="left:246.6px;top:685.8px" width="24" height="24" viewBox="-12 -12 24 24"><use href="#ck" stroke="#93b7ba" stroke-width="5.7"/><use href="#ck" stroke="#f0fcfc" stroke-width="3.3"/></svg>
<svg class="i" style="left:303px;top:685.8px" width="24" height="24" viewBox="-12 -12 24 24"><use href="#ck" stroke="#fff" stroke-width="4.6"/></svg>
<svg class="i" style="left:357.2px;top:685.8px" width="24" height="24" viewBox="-12 -12 24 24"><use href="#ck" stroke="#fff" stroke-width="4.6"/></svg>
<svg class="i" style="left:407px;top:685.8px" width="24" height="24" viewBox="-12 -12 24 24"><use href="#ck" stroke="#56a5a3" stroke-width="5.7"/><use href="#ck" stroke="#e9fbfb" stroke-width="3.2"/></svg>
<svg class="i" style="left:460.9px;top:685.8px" width="24" height="24" viewBox="-12 -12 24 24"><use href="#ck" stroke="#56a5a3" stroke-width="5.7"/><use href="#ck" stroke="#e9fbfb" stroke-width="3.2"/></svg>
<svg class="i" style="left:514.6px;top:685.8px" width="24" height="24" viewBox="-12 -12 24 24"><use href="#ck" stroke="#56a5a3" stroke-width="5.7"/><use href="#ck" stroke="#e9fbfb" stroke-width="3.2"/></svg>
<svg class="i" style="left:569.7px;top:685.8px" width="24" height="24" viewBox="-12 -12 24 24"><use href="#ck" stroke="#fff" stroke-width="4.6"/></svg>
<svg class="i" style="left:623.6px;top:685.8px" width="24" height="24" viewBox="-12 -12 24 24"><use href="#ck" stroke="#fff" stroke-width="4.6"/></svg>
<svg class="i" style="left:683px;top:686.2px" width="24" height="24" viewBox="-12 -12 24 24"><use href="#st" fill="none" stroke="#cdcdcd" stroke-width="3.2"/><use href="#st" fill="#fff" stroke="#fff" stroke-width="1.2"/></svg>
<svg class="i" style="left:743.6px;top:686.2px" width="24" height="24" viewBox="-12 -12 24 24"><use href="#st" fill="none" stroke="#cdcdcd" stroke-width="3.2"/><use href="#st" fill="#fff" stroke="#fff" stroke-width="1.2"/></svg>
<svg class="i" style="left:818.6px;top:685.8px" width="24" height="24" viewBox="-12 -12 24 24"><use href="#ck" stroke="#fff" stroke-width="4.6"/></svg>
<svg class="i" style="left:877.2px;top:686.2px" width="24" height="24" viewBox="-12 -12 24 24"><use href="#st" fill="none" stroke="#cdcdcd" stroke-width="3.2"/><use href="#st" fill="#fff" stroke="#fff" stroke-width="1.2"/></svg>
<svg class="i" style="left:935.3px;top:685.8px" width="24" height="24" viewBox="-12 -12 24 24"><use href="#ck" stroke="#fff" stroke-width="4.6"/></svg>
<div class="abs gb" style="left:44px;top:258.1px;width:186.3px;height:1.8px"></div>
<div class="abs gl" style="left:230.3px;top:258.1px;width:56.3px;height:1.8px"></div>
<div class="abs gb" style="left:286.6px;top:258.1px;width:106.2px;height:1.8px"></div>
<div class="abs gl" style="left:392.8px;top:258.1px;width:268.5px;height:1.8px"></div>
<div class="abs gg" style="left:661.3px;top:258.1px;width:314.7px;height:1.8px"></div>
<div class="abs gb" style="left:44px;top:305.1px;width:186.3px;height:1.8px"></div>
<div class="abs gl" style="left:230.3px;top:305.1px;width:56.3px;height:1.8px"></div>
<div class="abs gb" style="left:286.6px;top:305.1px;width:106.2px;height:1.8px"></div>
<div class="abs gl" style="left:392.8px;top:305.1px;width:268.5px;height:1.8px"></div>
<div class="abs gg" style="left:661.3px;top:305.1px;width:314.7px;height:1.8px"></div>
<div class="abs gw" style="left:44px;top:351.1px;width:186.3px;height:1.8px"></div>
<div class="abs gl" style="left:230.3px;top:351.1px;width:56.3px;height:1.8px"></div>
<div class="abs gw" style="left:286.6px;top:351.1px;width:106.2px;height:1.8px"></div>
<div class="abs gl" style="left:392.8px;top:351.1px;width:268.5px;height:1.8px"></div>
<div class="abs gg" style="left:661.3px;top:351.1px;width:314.7px;height:1.8px"></div>
<div class="abs gw" style="left:44px;top:403.3px;width:186.3px;height:1.8px"></div>
<div class="abs gl" style="left:230.3px;top:403.3px;width:56.3px;height:1.8px"></div>
<div class="abs gw" style="left:286.6px;top:403.3px;width:106.2px;height:1.8px"></div>
<div class="abs gl" style="left:392.8px;top:403.3px;width:268.5px;height:1.8px"></div>
<div class="abs gg" style="left:661.3px;top:403.3px;width:314.7px;height:1.8px"></div>
<div class="abs gb" style="left:44px;top:456.1px;width:186.3px;height:1.8px"></div>
<div class="abs gl" style="left:230.3px;top:456.1px;width:56.3px;height:1.8px"></div>
<div class="abs gb" style="left:286.6px;top:456.1px;width:106.2px;height:1.8px"></div>
<div class="abs gl" style="left:392.8px;top:456.1px;width:268.5px;height:1.8px"></div>
<div class="abs gg" style="left:661.3px;top:456.1px;width:314.7px;height:1.8px"></div>
<div class="abs gw" style="left:44px;top:500.9px;width:186.3px;height:1.8px"></div>
<div class="abs gl" style="left:230.3px;top:500.9px;width:56.3px;height:1.8px"></div>
<div class="abs gw" style="left:286.6px;top:500.9px;width:106.2px;height:1.8px"></div>
<div class="abs gl" style="left:392.8px;top:500.9px;width:268.5px;height:1.8px"></div>
<div class="abs gg" style="left:661.3px;top:500.9px;width:314.7px;height:1.8px"></div>
<div class="abs gw" style="left:44px;top:548.4px;width:186.3px;height:1.8px"></div>
<div class="abs gl" style="left:230.3px;top:548.4px;width:56.3px;height:1.8px"></div>
<div class="abs gw" style="left:286.6px;top:548.4px;width:106.2px;height:1.8px"></div>
<div class="abs gl" style="left:392.8px;top:548.4px;width:268.5px;height:1.8px"></div>
<div class="abs gg" style="left:661.3px;top:548.4px;width:314.7px;height:1.8px"></div>
<div class="abs gw" style="left:44px;top:596.6px;width:186.3px;height:1.8px"></div>
<div class="abs gl" style="left:230.3px;top:596.6px;width:56.3px;height:1.8px"></div>
<div class="abs gw" style="left:286.6px;top:596.6px;width:106.2px;height:1.8px"></div>
<div class="abs gl" style="left:392.8px;top:596.6px;width:268.5px;height:1.8px"></div>
<div class="abs gg" style="left:661.3px;top:596.6px;width:314.7px;height:1.8px"></div>
<div class="abs gw" style="left:44px;top:635.1px;width:186.3px;height:1.8px"></div>
<div class="abs gl" style="left:230.3px;top:635.1px;width:56.3px;height:1.8px"></div>
<div class="abs gw" style="left:286.6px;top:635.1px;width:106.2px;height:1.8px"></div>
<div class="abs gl" style="left:392.8px;top:635.1px;width:268.5px;height:1.8px"></div>
<div class="abs gg" style="left:661.3px;top:635.1px;width:314.7px;height:1.8px"></div>
<div class="abs gw" style="left:44px;top:672.4px;width:186.3px;height:1.8px"></div>
<div class="abs gl" style="left:230.3px;top:672.4px;width:56.3px;height:1.8px"></div>
<div class="abs gw" style="left:286.6px;top:672.4px;width:106.2px;height:1.8px"></div>
<div class="abs gl" style="left:392.8px;top:672.4px;width:268.5px;height:1.8px"></div>
<div class="abs gg" style="left:661.3px;top:672.4px;width:314.7px;height:1.8px"></div>
<div class="abs gl" style="left:229.55px;top:212.5px;width:1.5px;height:509.5px"></div>
<div class="abs gl" style="left:285.85px;top:212.5px;width:1.5px;height:509.5px"></div>
<div class="abs gl" style="left:342.05px;top:212.5px;width:1.5px;height:509.5px"></div>
<div class="abs gl" style="left:444.85px;top:212.5px;width:1.5px;height:509.5px"></div>
<div class="abs gl" style="left:499.65px;top:212.5px;width:1.5px;height:509.5px"></div>
<div class="abs gl" style="left:553.75px;top:212.5px;width:1.5px;height:509.5px"></div>
<div class="abs gl" style="left:607.75px;top:212.5px;width:1.5px;height:509.5px"></div>
<div class="abs gg" style="left:660.55px;top:212.5px;width:1.5px;height:509.5px"></div>
<div class="abs gg" style="left:724.45px;top:212.5px;width:1.5px;height:509.5px"></div>
<div class="abs gg" style="left:801.75px;top:212.5px;width:1.5px;height:509.5px"></div>
<div class="abs gg" style="left:858.85px;top:212.5px;width:1.5px;height:509.5px"></div>
<div class="abs gg" style="left:916.25px;top:212.5px;width:1.5px;height:509.5px"></div>
<span class="t tt" style="left:97.5px;top:73.57px;transform:scaleX(1.1196)">Maleat</span>
<span class="t tt" style="left:221.5px;top:73.57px;transform:scaleX(1.0610)">con</span>
<span class="t tt" style="left:293px;top:73.57px;transform:scaleX(1.1054)">stıarty</span>
<span class="t tt" style="left:412.5px;top:73.57px;transform:scaleX(1.0992)">Marmaltion</span>
<span class="t ct" style="left:748.5px;top:73.87px;transform:scaleX(1.0551)">Calegory</span>
<span class="t hd" style="left:241.8px;top:164px;transform:scaleX(1.0690)">Lary</span>
<span class="t hd hg" style="left:241.2px;top:184px;transform:scaleX(1.0505)">tiess</span>
<span class="t hd" style="left:297px;top:164px;transform:scaleX(1.0072)">Thine</span>
<span class="t hd" style="left:301.5px;top:184px;transform:scaleX(1.0176)">tass</span>
<span class="t hd" style="left:357.2px;top:164px;transform:scaleX(0.8688)">TRI</span>
<span class="t hd" style="left:354.2px;top:184px;transform:scaleX(0.9994)">tass</span>
<span class="t hd" style="left:407.9px;top:164px;transform:scaleX(1.0495)">Tox</span>
<span class="t hd" style="left:406.2px;top:184px;transform:scaleX(0.9813)">tess</span>
<span class="t hd" style="left:457.2px;top:164px;transform:scaleX(1.0325)">Nary</span>
<span class="t hd" style="left:457.6px;top:184px;transform:scaleX(1.0794)">tass</span>
<span class="t hd" style="left:518.5px;top:164px;transform:scaleX(0.8054)">UIL</span>
<span class="t hd" style="left:512.6px;top:184px;transform:scaleX(1.0176)">tass</span>
<span class="t hd" style="left:562.9px;top:164px;transform:scaleX(1.1348)">Anirt</span>
<span class="t hd" style="left:566.3px;top:184px;transform:scaleX(1.0155)">taes</span>
<span class="t hd" style="left:624.3px;top:164px;transform:scaleX(0.9956)">Fur</span>
<span class="t hd" style="left:620px;top:184px;transform:scaleX(1.0176)">tass</span>
<span class="t hd" style="left:678.1px;top:164px;transform:scaleX(1.0959)">Light</span>
<span class="t hd" style="left:678.1px;top:184px;transform:scaleX(1.0572)">navy</span>
<span class="t hd" style="left:737.5px;top:164px;transform:scaleX(1.1066)">Might</span>
<span class="t hd" style="left:738.1px;top:184px;transform:scaleX(1.1244)">rating</span>
<span class="t hd" style="left:816.25px;top:164px;transform:scaleX(1.0701)">Lght</span>
<span class="t hd" style="left:812.5px;top:184px;transform:scaleX(1.0221)">raties</span>
<span class="t hd" style="left:873.1px;top:164px;transform:scaleX(1.0113)">Locd</span>
<span class="t hd" style="left:873.1px;top:184px;transform:scaleX(1.0148)">tless</span>
<span class="t hd" style="left:931.25px;top:164px;transform:scaleX(1.0708)">Nort</span>
<span class="t hd" style="left:930.3px;top:184px;transform:scaleX(1.0162)">tiees</span>
<span class="t ld" style="left:53.3px;top:228.01px;transform:scaleX(0.9948)">Pricing</span>
<span class="t ld" style="left:53.3px;top:274.91px;transform:scaleX(1.0075)">Medications</span>
<span class="t ld" style="left:53.3px;top:321.91px;transform:scaleX(0.9690)">Medical lews</span>
<span class="t ll" style="left:52.2px;top:368.71px;transform:scaleX(0.9362)">Support level</span>
<span class="t ld" style="left:52.2px;top:423.81px;transform:scaleX(0.9825)">Support level</span>
<span class="t ld" style="left:53.1px;top:470.61px;transform:scaleX(1.0023)">Cargort level</span>
<span class="t ll" style="left:53.1px;top:518.11px;transform:scaleX(0.9923)">Maryofut ating</span>
<span class="t ll" style="left:53.1px;top:565.71px;transform:scaleX(0.9060)">Casieler</span>
<span class="t ld" style="left:53.1px;top:607.91px;transform:scaleX(0.9740)">Patent rating</span>
<span class="t ll" style="left:53.1px;top:647.41px;transform:scaleX(0.9471)">Persnnent</span>
<span class="t ll" style="left:53.1px;top:684.71px;transform:scaleX(1.0196)">Patient rating</span>
<span class="t ll" style="left:52.6px;top:704.31px;transform:scaleX(0.9922)">ration</span>
</body>
</html>
